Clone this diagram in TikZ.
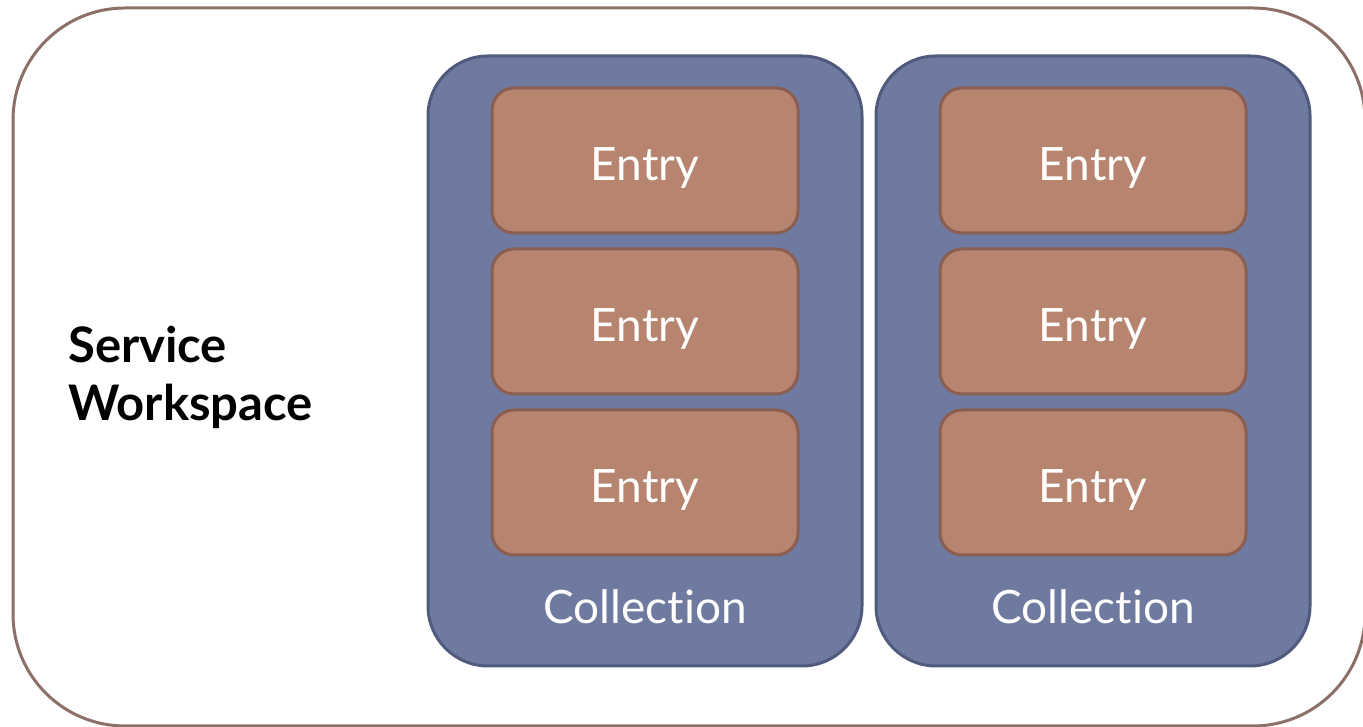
\documentclass[tikz,border=0pt]{standalone}
\usepackage{fontspec}
\setmainfont{Lato}[Ligatures={NoCommon,NoRequired,NoContextual}]
\usepackage{xcolor}
\usepackage{tikz}
\usetikzlibrary{positioning}
\definecolor{wsline}{RGB}{140,112,104}
\definecolor{colfill}{RGB}{110,122,160}
\definecolor{colline}{RGB}{80,90,125}
\definecolor{entfill}{RGB}{183,132,111}
\definecolor{entline}{RGB}{138,94,80}

\begin{document}
\begin{tikzpicture}[x=1pt,y=1pt,node distance=13pt,
		entry/.style={draw=entline,fill=entfill,line width=3pt,rounded corners=22pt,minimum width=306pt,minimum height=145pt,text=white,text height=40pt,text depth=0pt,font=\fontsize{46}{55}\selectfont},
		collection/.style={draw=colline,fill=colfill,line width=3pt,rounded corners=60pt,minimum width=434pt,minimum height=610pt},
		collabel/.style={text=white,font=\fontsize{46}{55}\selectfont,inner sep=0pt}]
		\useasboundingbox (0,0) rectangle (1363,727);
		\draw[wsline,line width=3pt,rounded corners=112pt] (13,1) rectangle (1365,719);
		\node[font=\bfseries\fontsize{49}{58}\selectfont,align=left,anchor=west,inner sep=0pt] (ws) at (68,350) {Service\\Workspace};
	
		\node[collection] (c1) at (645,366) {};
		\node[collection] (c2) at (1093,366) {};
	
		\node[entry] (e11) at (645,566.5) {Entry};
		\node[entry] (e12) [below=of e11] {Entry};
		\node[entry] (e13) [below=of e12] {Entry};
		\node[entry] (e21) at (1093,566.5) {Entry};
		\node[entry] (e22) [below=of e21] {Entry};
		\node[entry] (e23) [below=of e22] {Entry};
	
		\node[collabel] (l1) at (645,120) {Collection};
		\node[collabel] (l2) at (1093,120) {Collection};
	\end{tikzpicture}
\end{document}
